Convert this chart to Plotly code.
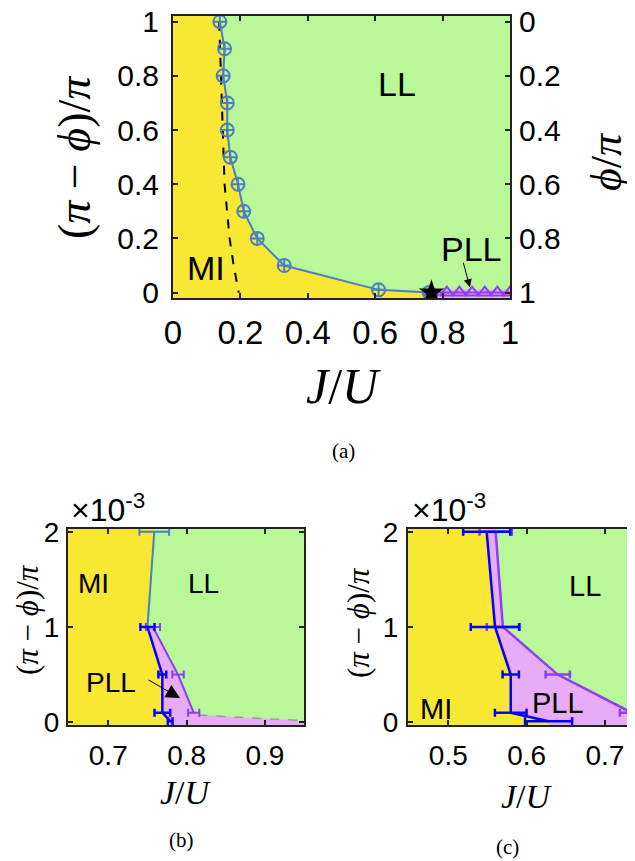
import plotly.graph_objects as go

# the page body has an 8 px margin, so the figure is drawn 8 px smaller and
# all reference pixel positions are shifted by that offset
OFF = 8
W, H = 635 - OFF, 861 - OFF

# ---------------- data ----------------
# panel (a): MI / LL / PLL phase diagram
a_mi_ll_J = [0.139, 0.153, 0.149, 0.161, 0.161, 0.170, 0.193, 0.210, 0.250, 0.330, 0.610, 0.760]
a_mi_ll_y = [1.0, 0.9, 0.8, 0.7, 0.6, 0.5, 0.4, 0.3, 0.2, 0.1, 0.01, 0.0]
a_dash_J = [0.137, 0.142, 0.147, 0.153, 0.168, 0.180, 0.195]
a_dash_y = [1.0, 0.8, 0.6, 0.4, 0.2, 0.1, 0.0]
a_star_J = [0.767]
a_star_y = [0.0]
a_pll_J = [0.8125, 0.85, 0.8875, 0.925, 0.9625, 1.0]
a_pll_y = [0.0, 0.0, 0.0, 0.0, 0.0, 0.0]
a_ticks = [0, 0.2, 0.4, 0.6, 0.8, 1]
a_tick_text = ["0", "0.2", "0.4", "0.6", "0.8", "1"]

# panel (b): zoom near phi = pi  (y in units of 1e-3)
b_mi_ll_J = [0.7587, 0.7500]
b_mi_ll_y = [2.0, 1.0]
b_mi_ll_err = [0.019, 0.0]
b_mi_pll_J = [0.750, 0.769, 0.769, 0.779]
b_mi_pll_y = [1.0, 0.5, 0.1, 0.01]
b_mi_pll_err = [0.009, 0.005, 0.010, 0.003]
b_pll_ll_J = [0.757, 0.789, 0.809]
b_pll_ll_y = [1.0, 0.5, 0.1]
b_pll_ll_err = [0.009, 0.0073, 0.0072]
b_tail_J = [0.815, 0.950]
b_tail_y = [0.075, 0.015]
b_xticks = [0.7, 0.8, 0.9]
b_xtick_text = ["0.7", "0.8", "0.9"]
b_yticks = [0, 1, 2]

# panel (c)
c_mi_pll_J = [0.549, 0.5597, 0.5797, 0.5797, 0.628]
c_mi_pll_y = [2.0, 1.0, 0.5, 0.1, 0.01]
c_mi_pll_err = [0.030, 0.031, 0.0104, 0.0202, 0.030]
c_pll_ll_J = [0.5605, 0.5697, 0.6397, 0.734]
c_pll_ll_y = [2.0, 1.0, 0.5, 0.1]
c_pll_ll_err = [0.0206, 0.0206, 0.0155, 0.015]
c_tail_J = [0.740, 0.950]
c_tail_y = [0.075, 0.015]
c_xticks = [0.5, 0.6, 0.7]
c_xtick_text = ["0.5", "0.6", "0.7"]
c_yticks = [0, 1, 2]

# ---------------- styles ----------------
YELLOW = "#F8E834"
GREEN = "#B8F898"
PINK = "#E8ABF8"
STEEL = "#4A7FC1"
BLUE = "#0000FF"
PURPLE = "#8A3FF0"
GRAY = "#9A9A9A"
AX = "#222222"
SANS = "Liberation Sans, Arial, sans-serif"
SERIF = "Liberation Serif, DejaVu Serif, serif"

RA_X, RA_Y = [0.0, 1.0], [-0.02, 1.021]
RB_X, RB_Y = [0.6486, 0.9498], [-0.03, 2.03]
RC_X, RC_Y = [0.4486, 0.7383], [-0.03, 2.03]


def fx(px):
    return (px - OFF) / W


def fy(py):
    return 1 - (py - OFF) / H


fig = go.Figure()

# ---------- panel (a) ----------
fig.add_trace(go.Scatter(
    x=[RA_X[0], RA_X[0], a_mi_ll_J[0]] + a_mi_ll_J + [a_star_J[0], a_star_J[0]],
    y=[RA_Y[0], RA_Y[1], RA_Y[1]] + a_mi_ll_y + [a_star_y[0], RA_Y[0]],
    fill="toself", fillcolor=YELLOW, line=dict(width=0), mode="lines",
    xaxis="x", yaxis="y", hoverinfo="skip"))
fig.add_trace(go.Scatter(
    x=[a_star_J[0], a_pll_J[-1], a_pll_J[-1], a_star_J[0]],
    y=[RA_Y[0], RA_Y[0], 0.012, 0.012],
    fill="toself", fillcolor=PINK, line=dict(width=0), mode="lines",
    xaxis="x", yaxis="y", hoverinfo="skip"))
fig.add_trace(go.Scatter(
    x=a_dash_J, y=a_dash_y, mode="lines",
    line=dict(color="black", width=2, dash="dash"), xaxis="x", yaxis="y"))
fig.add_trace(go.Scatter(
    x=[a_star_J[0]] + a_pll_J, y=[a_star_y[0]] + a_pll_y, mode="lines+markers",
    line=dict(color=PURPLE, width=2),
    marker=dict(symbol="triangle-up-open", size=12, color=PURPLE, line=dict(width=2)),
    xaxis="x", yaxis="y"))
fig.add_trace(go.Scatter(
    x=a_mi_ll_J, y=a_mi_ll_y, mode="lines+markers",
    line=dict(color=STEEL, width=2),
    marker=dict(symbol="circle-cross-open", size=13, color=STEEL, line=dict(width=2)),
    xaxis="x", yaxis="y"))
fig.add_trace(go.Scatter(
    x=a_star_J, y=a_star_y, mode="markers",
    marker=dict(symbol="star", size=19, color="black"), xaxis="x", yaxis="y"))
# same boundary on the right-hand phi/pi axis (invisible, keeps that axis alive)
fig.add_trace(go.Scatter(
    x=a_mi_ll_J, y=[1 - v for v in a_mi_ll_y], mode="lines", opacity=0,
    line=dict(width=1), xaxis="x", yaxis="y4", hoverinfo="skip"))

# ---------- panel (b) ----------
fig.add_trace(go.Scatter(
    x=[RB_X[0], RB_X[0], b_mi_ll_J[0]] + b_mi_ll_J + b_mi_pll_J[1:] + [b_mi_pll_J[-1]],
    y=[RB_Y[0], RB_Y[1], RB_Y[1]] + b_mi_ll_y + b_mi_pll_y[1:] + [RB_Y[0]],
    fill="toself", fillcolor=YELLOW, line=dict(width=0), mode="lines",
    xaxis="x2", yaxis="y2", hoverinfo="skip"))
fig.add_trace(go.Scatter(
    x=b_mi_pll_J + [b_mi_pll_J[-1], RB_X[1], RB_X[1]] + b_tail_J[::-1] + b_pll_ll_J[::-1],
    y=b_mi_pll_y + [RB_Y[0], RB_Y[0], b_tail_y[-1]] + b_tail_y[::-1] + b_pll_ll_y[::-1],
    fill="toself", fillcolor=PINK, line=dict(width=0), mode="lines",
    xaxis="x2", yaxis="y2", hoverinfo="skip"))
fig.add_trace(go.Scatter(
    x=b_tail_J, y=b_tail_y, mode="lines",
    line=dict(color=GRAY, width=1.5, dash="dash"), xaxis="x2", yaxis="y2"))
fig.add_trace(go.Scatter(
    x=b_mi_ll_J, y=b_mi_ll_y, mode="lines",
    line=dict(color=STEEL, width=2),
    error_x=dict(type="data", array=b_mi_ll_err, color=STEEL, thickness=2, width=4),
    xaxis="x2", yaxis="y2"))
fig.add_trace(go.Scatter(
    x=b_pll_ll_J, y=b_pll_ll_y, mode="lines",
    line=dict(color=PURPLE, width=2),
    error_x=dict(type="data", array=b_pll_ll_err, color=PURPLE, thickness=2, width=4),
    xaxis="x2", yaxis="y2"))
fig.add_trace(go.Scatter(
    x=b_mi_pll_J, y=b_mi_pll_y, mode="lines",
    line=dict(color=BLUE, width=2.5),
    error_x=dict(type="data", array=b_mi_pll_err, color=BLUE, thickness=2.5, width=4),
    xaxis="x2", yaxis="y2"))

# ---------- panel (c) ----------
fig.add_trace(go.Scatter(
    x=[RC_X[0], RC_X[0], c_mi_pll_J[0]] + c_mi_pll_J + [c_mi_pll_J[-1]],
    y=[RC_Y[0], RC_Y[1], RC_Y[1]] + c_mi_pll_y + [RC_Y[0]],
    fill="toself", fillcolor=YELLOW, line=dict(width=0), mode="lines",
    xaxis="x3", yaxis="y3", hoverinfo="skip"))
fig.add_trace(go.Scatter(
    x=[c_mi_pll_J[0]] + c_mi_pll_J + [c_mi_pll_J[-1], c_tail_J[-1], c_tail_J[-1]]
      + c_tail_J[::-1] + c_pll_ll_J[::-1] + [c_pll_ll_J[0]],
    y=[RC_Y[1]] + c_mi_pll_y + [RC_Y[0], RC_Y[0], c_tail_y[-1]]
      + c_tail_y[::-1] + c_pll_ll_y[::-1] + [RC_Y[1]],
    fill="toself", fillcolor=PINK, line=dict(width=0), mode="lines",
    xaxis="x3", yaxis="y3", hoverinfo="skip"))
fig.add_trace(go.Scatter(
    x=c_tail_J, y=c_tail_y, mode="lines",
    line=dict(color=GRAY, width=1.5, dash="dash"), xaxis="x3", yaxis="y3"))
fig.add_trace(go.Scatter(
    x=c_pll_ll_J, y=c_pll_ll_y, mode="lines",
    line=dict(color=PURPLE, width=2.5),
    error_x=dict(type="data", array=c_pll_ll_err, color=PURPLE, thickness=2.5, width=4),
    xaxis="x3", yaxis="y3"))
fig.add_trace(go.Scatter(
    x=c_mi_pll_J, y=c_mi_pll_y, mode="lines",
    line=dict(color=BLUE, width=2.5),
    error_x=dict(type="data", array=c_mi_pll_err, color=BLUE, thickness=2.5, width=4),
    xaxis="x3", yaxis="y3"))

# ---------- axes ----------
common = dict(showgrid=False, zeroline=False, showline=True, linecolor=AX, linewidth=2,
              ticks="inside", ticklen=5, tickwidth=1.5, tickcolor=AX, automargin=False,
              ticklabeloverflow="allow")

fig.update_layout(
    template="none",
    width=W, height=H, margin=dict(l=0, r=0, t=0, b=0, pad=0),
    paper_bgcolor="white", plot_bgcolor=GREEN, showlegend=False,
    xaxis=dict(domain=[fx(173), fx(510)], anchor="y", range=RA_X, mirror="ticks",
               tickvals=a_ticks, ticktext=a_tick_text, ticklabelstandoff=4,
               tickfont=dict(family=SANS, size=33, color="black"), **common),
    yaxis=dict(domain=[fy(298), fy(16)], anchor="x", range=RA_Y, mirror="ticks",
               tickvals=a_ticks, ticktext=a_tick_text, ticklabelstandoff=6,
               tickfont=dict(family=SANS, size=30, color="black"), **common),
    yaxis4=dict(overlaying="y", side="right", anchor="x", range=[1 - RA_Y[0], 1 - RA_Y[1]],
                tickvals=a_ticks, ticktext=a_tick_text, showgrid=False, zeroline=False,
                showline=False, ticks="", ticklabelstandoff=8, automargin=False,
                ticklabeloverflow="allow",
                tickfont=dict(family=SANS, size=30, color="black")),
    xaxis2=dict(domain=[fx(68), fx(304)], anchor="y2", range=RB_X, mirror="ticks",
                tickvals=b_xticks, ticktext=b_xtick_text, ticklabelstandoff=4,
                tickfont=dict(family=SANS, size=28, color="black"), **common),
    yaxis2=dict(domain=[fy(725), fy(529)], anchor="x2", range=RB_Y, mirror="ticks",
                tickvals=b_yticks, ticklabelstandoff=1,
                tickfont=dict(family=SANS, size=28, color="black"), **common),
    xaxis3=dict(domain=[fx(408), 1.0], anchor="y3", range=RC_X, mirror="ticks",
                tickvals=c_xticks, ticktext=c_xtick_text, ticklabelstandoff=4,
                tickfont=dict(family=SANS, size=28, color="black"), **common),
    yaxis3=dict(domain=[fy(725), fy(529)], anchor="x3", range=RC_Y, mirror=False,
                tickvals=c_yticks, ticklabelstandoff=2,
                tickfont=dict(family=SANS, size=28, color="black"), **common),
)

# ---------- annotations ----------
ann = []


def label(text, x, y, size, family=SANS, angle=0, xanchor="center"):
    ann.append(dict(text=text, x=fx(x), y=fy(y), xref="paper", yref="paper",
                    showarrow=False, textangle=angle, xanchor=xanchor, yanchor="middle",
                    font=dict(family=family, size=size, color="black")))


# region labels
label("LL", 397, 84, 34)
label("MI", 206, 268, 34)
label("PLL", 471, 249, 34)
label("MI", 93, 583, 28)
label("LL", 203, 583, 28)
label("PLL", 111, 682, 28)
label("LL", 585, 586, 29)
label("PLL", 558, 703, 29)
label("MI", 436, 709, 29)

# exponent labels
label("×10<sup>-3</sup>", 69, 508, 32, xanchor="left")
label("×10<sup>-3</sup>", 410, 508, 32, xanchor="left")

# axis titles
label("(<i>π</i> − <i>ϕ</i>)/<i>π</i>", 75, 157, 46, family=SERIF, angle=-90)
label("<i>ϕ</i>/<i>π</i>", 606, 162, 44, family=SERIF, angle=-90)
label("<i>J</i>/<i>U</i>", 343, 386, 50, family=SERIF)
label("(<i>π</i> − <i>ϕ</i>)/<i>π</i>", 27, 620, 31, family=SERIF, angle=-90)
label("(<i>π</i> − <i>ϕ</i>)/<i>π</i>", 358, 623, 31, family=SERIF, angle=-90)
label("<i>J</i>/<i>U</i>", 186, 792, 34, family=SERIF)
label("<i>J</i>/<i>U</i>", 527, 796, 34, family=SERIF)

# captions
label("(a)", 343, 451, 21, family=SERIF)
label("(b)", 181, 840, 21, family=SERIF)
label("(c)", 507, 847, 21, family=SERIF)

# arrows
ann.append(dict(x=0.881, y=0.02, xref="x", yref="y", ax=-7, ay=-26, axref="pixel", ayref="pixel",
                text="", showarrow=True, arrowhead=2, arrowsize=1.6, arrowwidth=1, arrowcolor="black"))
ann.append(dict(x=0.7915, y=0.253, xref="x2", yref="y2", ax=-33, ay=-19, axref="pixel", ayref="pixel",
                text="", showarrow=True, arrowhead=2, arrowsize=2.8, arrowwidth=1, arrowcolor="black"))

fig.update_layout(annotations=ann)

fig.write_html("out.html")
